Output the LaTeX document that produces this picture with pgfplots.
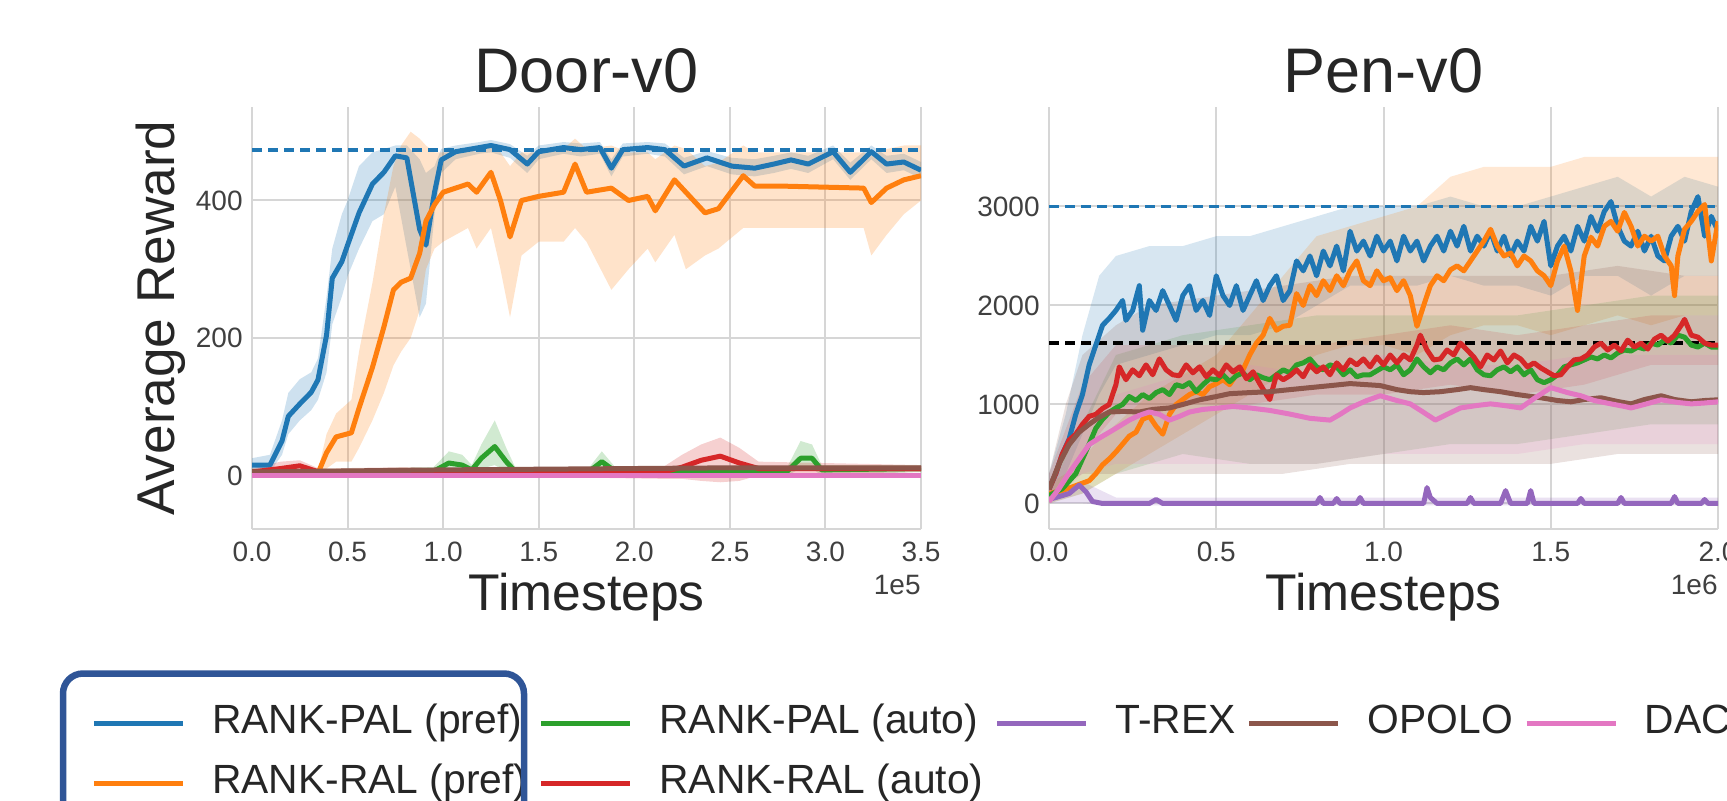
\documentclass[border=0pt]{standalone}
\usepackage{pgfplots}
\pgfplotsset{compat=1.18}
\usepackage{pgfplotstable}
\usepgfplotslibrary{fillbetween}
\usepackage{fontspec}
\setmainfont{Liberation Sans}

\definecolor{cblue}{HTML}{1F77B4}
\definecolor{corange}{HTML}{FF7F0E}
\definecolor{cgreen}{HTML}{2CA02C}
\definecolor{cred}{HTML}{D62728}
\definecolor{cpurple}{HTML}{9467BD}
\definecolor{cbrown}{HTML}{8C564B}
\definecolor{cpink}{HTML}{E377C2}
\definecolor{boxblue}{HTML}{2F5597}
\definecolor{gridgray}{HTML}{D6D6D6}
\definecolor{txt}{HTML}{262626}

% ---------------- Door-v0 data (x in 1e5) ----------------
\pgfplotstableread{
x y lo hi
0 15 5 25
0.094 15 5 30
0.157 50 30 80
0.19 86 60 120
0.25 104 80 140
0.31 121 95 150
0.345 139 110 170
0.39 204 150 260
0.42 287 220 330
0.47 311 260 380
0.5 335 290 400
0.56 382 330 450
0.63 424 370 470
0.69 441 380 475
0.75 465 420 480
0.81 462 330 480
0.877 358 230 460
0.91 335 250 440
0.955 412 380 450
0.99 459 440 475
1.065 471 460 480
1.19 477 468 485
1.25 480 470 488
1.35 474 462 482
1.44 453 440 465
1.50 471 460 480
1.63 477 468 485
1.72 474 464 483
1.82 477 468 485
1.88 447 435 460
1.94 474 464 483
2.07 477 468 485
2.16 474 464 483
2.26 450 438 462
2.38 462 450 472
2.51 450 438 462
2.63 447 435 460
2.73 453 440 465
2.82 459 446 470
2.91 453 440 465
3.04 471 460 480
3.13 441 430 455
3.24 471 460 480
3.32 453 440 465
3.41 456 444 468
3.5 444 432 456
}\doorblue

\pgfplotstableread{
x y lo hi
0 3 0 6
0.345 3 0 6
0.39 33 10 60
0.44 56 20 90
0.52 62 20 110
0.56 98 40 180
0.63 157 80 280
0.69 216 120 380
0.74 270 160 450
0.78 281 180 480
0.83 287 200 500
0.877 323 240 490
0.91 370 300 480
0.955 394 330 470
1.0 412 340 470
1.065 418 350 470
1.13 424 360 475
1.175 412 330 470
1.25 441 360 480
1.3 400 300 470
1.35 347 230 450
1.41 400 320 470
1.50 406 340 470
1.63 412 340 475
1.69 453 360 490
1.75 412 340 475
1.88 418 270 480
1.97 400 300 470
2.07 406 330 470
2.11 385 310 460
2.21 430 350 480
2.27 412 300 475
2.37 382 320 450
2.44 388 330 455
2.57 436 360 480
2.63 421 360 470
2.76 421 360 470
3.20 418 360 470
3.24 397 320 465
3.32 418 350 475
3.41 430 380 480
3.5 436 400 480
}\doororange

\pgfplotstableread{
x y lo hi
0 5 0 10
0.5 5 0 10
0.95 6 0 12
1.03 18 5 35
1.1 15 5 30
1.15 8 0 15
1.2 25 10 45
1.27 42 15 80
1.33 20 5 40
1.38 5 0 10
1.76 5 0 10
1.83 20 8 35
1.9 6 0 12
2.8 6 0 12
2.87 25 10 50
2.93 25 10 45
2.98 8 0 15
3.5 10 5 15
}\doorgreen

\pgfplotstableread{
x y lo hi
0 5 0 10
0.15 10 2 20
0.25 14 4 22
0.35 5 0 10
0.8 6 0 12
1.0 5 0 10
2.15 5 -5 12
2.25 12 -5 30
2.35 22 -8 45
2.45 28 -10 55
2.55 18 -8 40
2.65 10 0 20
3.5 10 5 15
}\doorred

\pgfplotstableread{
x y
0 0
3.5 0
}\doorpurple

\pgfplotstableread{
x y
0 5
1.0 8
2.0 10
2.5 11
3.5 11
}\doorbrown

\pgfplotstableread{
x y
0 0
3.5 0
}\doorpink

% ---------------- Pen-v0 data (x in 1e6) ----------------
\pgfplotstableread{
x y
0 144
0.02 300
0.04 500
0.06 650
0.08 900
0.10 1100
0.12 1400
0.14 1600
0.16 1800
0.18 1870
0.20 1950
0.22 2050
0.23 1850
0.25 1950
0.27 2200
0.28 1750
0.30 2050
0.32 1950
0.34 2150
0.36 2000
0.38 1850
0.40 2100
0.42 2200
0.44 1950
0.46 2050
0.48 1900
0.50 2300
0.52 2100
0.54 2000
0.56 2200
0.58 1950
0.60 2100
0.62 2250
0.64 2050
0.66 2200
0.68 2300
0.70 2050
0.72 2150
0.74 2450
0.76 2350
0.78 2500
0.80 2300
0.82 2550
0.84 2400
0.86 2600
0.88 2350
0.90 2750
0.92 2550
0.94 2650
0.96 2500
0.98 2700
1.00 2550
1.02 2650
1.04 2450
1.06 2700
1.08 2550
1.10 2650
1.12 2450
1.14 2600
1.16 2700
1.18 2550
1.20 2750
1.22 2600
1.24 2800
1.26 2550
1.28 2700
1.30 2600
1.32 2750
1.34 2550
1.36 2700
1.38 2500
1.40 2650
1.42 2550
1.44 2800
1.46 2650
1.48 2850
1.50 2400
1.52 2600
1.54 2700
1.56 2550
1.58 2800
1.60 2650
1.62 2900
1.64 2750
1.66 2950
1.68 3050
1.70 2800
1.72 2650
1.74 2600
1.76 2750
1.78 2550
1.80 2700
1.82 2500
1.84 2450
1.86 2700
1.88 2800
1.90 2650
1.92 2950
1.94 3100
1.96 2700
1.98 2900
2.00 2750
}\penblue

\pgfplotstableread{
x y
0 100
0.04 130
0.08 180
0.12 230
0.14 300
0.16 390
0.18 450
0.20 520
0.22 600
0.24 680
0.26 720
0.28 850
0.30 880
0.32 780
0.34 700
0.36 900
0.38 1000
0.40 1050
0.42 1100
0.44 1130
0.46 1100
0.48 1180
0.50 1210
0.52 1250
0.54 1200
0.56 1300
0.58 1350
0.60 1500
0.62 1620
0.64 1700
0.66 1870
0.68 1750
0.70 1790
0.72 1800
0.74 2120
0.76 2000
0.78 2200
0.80 2100
0.82 2250
0.84 2150
0.86 2300
0.88 2200
0.90 2350
0.92 2450
0.94 2250
0.96 2200
0.98 2350
1.00 2250
1.02 2280
1.04 2150
1.06 2250
1.08 2100
1.10 1790
1.12 2000
1.14 2200
1.16 2300
1.18 2250
1.20 2360
1.22 2400
1.24 2350
1.26 2450
1.28 2550
1.30 2650
1.32 2770
1.34 2600
1.36 2500
1.38 2530
1.40 2400
1.42 2500
1.44 2450
1.46 2350
1.48 2300
1.50 2200
1.52 2450
1.54 2600
1.56 2350
1.58 1950
1.60 2500
1.62 2690
1.64 2600
1.66 2800
1.68 2850
1.70 2750
1.72 2940
1.74 2800
1.76 2600
1.78 2700
1.80 2650
1.82 2700
1.84 2500
1.86 2400
1.87 2100
1.88 2500
1.90 2770
1.92 2850
1.94 2950
1.96 3020
1.98 2450
2.00 2850
}\penorange

\pgfplotstableread{
x y
0 80
0.04 150
0.08 300
0.10 450
0.12 600
0.14 760
0.16 850
0.18 920
0.20 965
0.22 1000
0.24 1080
0.26 1040
0.28 1100
0.30 1060
0.32 1120
0.34 1150
0.36 1100
0.38 1200
0.40 1180
0.42 1220
0.44 1130
0.46 1200
0.48 1260
0.50 1250
0.52 1300
0.54 1230
0.56 1290
0.58 1320
0.60 1250
0.62 1300
0.64 1270
0.66 1250
0.68 1300
0.70 1350
0.72 1320
0.74 1400
0.76 1420
0.78 1460
0.80 1380
0.82 1350
0.84 1400
0.86 1380
0.88 1300
0.90 1350
0.92 1280
0.94 1300
0.96 1300
0.98 1340
1.00 1380
1.02 1350
1.04 1400
1.06 1300
1.08 1350
1.10 1460
1.12 1380
1.14 1320
1.16 1380
1.18 1350
1.20 1420
1.22 1460
1.24 1400
1.26 1460
1.28 1350
1.30 1300
1.32 1290
1.34 1350
1.36 1380
1.38 1330
1.40 1380
1.42 1300
1.44 1350
1.46 1250
1.48 1220
1.50 1250
1.52 1300
1.54 1380
1.56 1400
1.58 1420
1.60 1450
1.62 1480
1.64 1460
1.66 1500
1.68 1470
1.70 1520
1.72 1550
1.74 1540
1.76 1580
1.78 1560
1.80 1620
1.82 1600
1.84 1650
1.86 1620
1.88 1700
1.90 1680
1.92 1600
1.94 1580
1.96 1620
1.98 1580
2.00 1580
}\pengreen

\pgfplotstableread{
x y
0 144
0.02 300
0.04 500
0.06 640
0.08 700
0.10 800
0.12 880
0.14 900
0.16 960
0.18 1000
0.20 1200
0.21 1380
0.23 1250
0.25 1350
0.27 1290
0.29 1400
0.31 1300
0.33 1460
0.35 1350
0.37 1300
0.39 1290
0.41 1400
0.43 1320
0.45 1380
0.47 1280
0.49 1350
0.51 1290
0.53 1400
0.55 1330
0.57 1380
0.59 1260
0.61 1330
0.63 1210
0.65 1100
0.66 1050
0.68 1300
0.70 1250
0.72 1290
0.74 1350
0.76 1280
0.78 1400
0.80 1330
0.82 1380
0.84 1300
0.86 1420
0.88 1350
0.90 1450
0.92 1400
0.94 1460
0.96 1380
0.98 1480
1.00 1400
1.02 1500
1.04 1420
1.06 1500
1.08 1450
1.10 1600
1.11 1700
1.13 1550
1.15 1450
1.17 1460
1.19 1550
1.21 1500
1.23 1620
1.25 1550
1.27 1480
1.29 1380
1.31 1500
1.33 1450
1.35 1540
1.37 1420
1.39 1500
1.41 1460
1.43 1380
1.45 1420
1.47 1370
1.49 1330
1.51 1290
1.53 1300
1.55 1380
1.57 1450
1.59 1460
1.61 1500
1.63 1580
1.65 1620
1.67 1550
1.69 1600
1.71 1540
1.73 1650
1.75 1580
1.77 1620
1.79 1560
1.81 1660
1.83 1700
1.85 1640
1.87 1700
1.89 1800
1.90 1860
1.92 1700
1.94 1680
1.96 1620
1.98 1600
2.00 1600
}\penred

\pgfplotstableread{
x y
0 40
0.03 70
0.06 100
0.09 185
0.11 120
0.13 20
0.16 0
0.30 0
0.32 40
0.34 0
0.80 0
0.81 60
0.82 0
0.85 0
0.86 50
0.87 0
0.92 0
0.93 60
0.94 0
1.12 0
1.13 160
1.14 60
1.16 0
1.25 0
1.26 60
1.27 0
1.35 0
1.365 130
1.38 0
1.43 0
1.44 130
1.45 0
1.58 0
1.59 50
1.60 0
1.70 0
1.71 60
1.72 0
1.86 0
1.87 70
1.88 0
1.95 0
1.96 40
1.97 0
2.00 0
}\penpurple

\pgfplotstableread{
x y
0 144
0.03 400
0.06 595
0.09 720
0.12 800
0.15 870
0.18 924
0.22 930
0.27 924
0.31 950
0.36 965
0.40 1000
0.45 1047
0.50 1080
0.54 1109
0.60 1120
0.66 1129
0.72 1150
0.78 1170
0.84 1190
0.90 1211
0.95 1200
0.99 1191
1.04 1150
1.08 1129
1.12 1120
1.17 1129
1.22 1150
1.26 1170
1.30 1150
1.35 1129
1.40 1100
1.47 1068
1.52 1040
1.56 1027
1.60 1050
1.65 1068
1.70 1030
1.74 1006
1.78 1050
1.83 1088
1.87 1050
1.92 1027
1.96 1040
2.00 1047
}\penbrown

\pgfplotstableread{
x y
0 20
0.03 150
0.06 308
0.09 450
0.12 595
0.15 660
0.18 719
0.21 780
0.24 842
0.27 890
0.30 924
0.33 900
0.36 842
0.39 880
0.42 924
0.46 950
0.51 965
0.55 980
0.60 965
0.66 940
0.72 903
0.78 860
0.84 842
0.87 900
0.90 965
0.95 1040
0.99 1088
1.04 1040
1.08 1006
1.12 920
1.155 842
1.19 900
1.23 965
1.28 990
1.32 1006
1.36 990
1.41 965
1.45 1060
1.50 1170
1.55 1120
1.59 1088
1.63 1040
1.68 1006
1.72 980
1.74 965
1.78 1000
1.83 1047
1.88 1020
1.92 1006
1.96 1015
2.00 1027
}\penpink

% Pen bands
\pgfplotstableread{
x lo hi
0 50 300
0.05 300 900
0.10 700 1700
0.15 1100 2300
0.20 1400 2500
0.30 1500 2600
0.40 1600 2600
0.50 1700 2700
0.60 1700 2700
0.70 1800 2800
0.80 2000 2900
0.90 2200 3000
1.00 2200 3000
1.10 2200 3000
1.20 2300 3100
1.30 2200 3000
1.40 2200 3000
1.50 2100 3100
1.60 2300 3200
1.70 2300 3300
1.80 2100 3100
1.90 2300 3300
2.00 2300 3200
}\bandpenblue

\pgfplotstableread{
x lo hi
0 0 200
0.05 50 300
0.10 100 450
0.15 200 650
0.20 300 800
0.30 500 1100
0.40 700 1300
0.50 900 1500
0.60 1100 1900
0.70 1300 2300
0.80 1500 2700
0.90 1600 2800
1.00 1600 2900
1.10 1500 3000
1.20 1700 3300
1.30 1800 3400
1.40 1800 3400
1.50 1700 3400
1.60 1800 3500
1.70 1900 3500
1.80 1800 3500
1.90 1900 3500
2.00 1900 3500
}\bandpenorange

\pgfplotstableread{
x lo hi
0 0 200
0.1 100 800
0.2 300 1500
0.4 500 1700
0.6 400 1800
0.8 400 1900
1.0 500 1900
1.2 600 1900
1.4 600 1900
1.6 700 2000
1.8 800 2100
2.0 800 2100
}\bandpengreen

\pgfplotstableread{
x lo hi
0 50 300
0.1 500 1200
0.2 900 1600
0.4 1000 1600
0.6 1000 1600
0.8 1100 1600
1.0 1100 1700
1.2 1200 1800
1.4 1100 1700
1.6 1200 1800
1.8 1400 1900
2.0 1400 1900
}\bandpenred

\pgfplotstableread{
x lo hi
0 0 100
0.1 0 220
0.2 -20 60
2.0 -20 60
}\bandpenpurple

\pgfplotstableread{
x lo hi
0 50 300
0.05 200 1000
0.10 300 1500
0.20 300 1800
0.30 300 2000
0.50 300 2100
0.70 300 2200
0.90 400 2300
1.10 400 2300
1.30 400 2300
1.50 400 2300
1.70 500 2400
1.90 500 2300
2.00 500 2300
}\bandpenbrown

\pgfplotstableread{
x lo hi
0 0 100
0.1 300 800
0.2 400 1100
0.4 400 1300
0.6 400 1400
0.8 400 1300
1.0 500 1500
1.2 500 1400
1.4 500 1400
1.6 600 1500
1.8 600 1500
2.0 600 1500
}\bandpenpink

\newcommand{\band}[3]{% table, opacity, color
  \addplot[draw=none, name path=bandlo, forget plot] table[x=x,y=lo]{#1};
  \addplot[draw=none, name path=bandhi, forget plot] table[x=x,y=hi]{#1};
  \addplot[fill=#3, fill opacity=#2, draw=none, forget plot] fill between[of=bandlo and bandhi];
}

\tikzset{
  ttl/.style={anchor=base, inner sep=0pt, font=\fontsize{31.5}{36}\selectfont, text=txt},
  offs/.style={anchor=east, inner sep=0pt, font=\fontsize{14}{16}\selectfont, text=black!75},
}

\pgfplotsset{
  rlax/.style={
    scale only axis,
    width=334.5pt, height=211pt,
    axis lines=left,
    axis line style={-, draw=gridgray, line width=1pt},
    grid=major,
    grid style={draw=gridgray, line width=1pt},
    major tick length=0pt,
    scaled ticks=false,
    clip mode=individual,
    /pgf/number format/assume math mode=true,
    tick label style={font=\fontsize{14}{16}\selectfont, text=black!75},
    xticklabel style={anchor=center, inner sep=0pt, yshift=-11.5pt,
      /pgf/number format/.cd, fixed, fixed zerofill, precision=1},
    yticklabel style={anchor=east, inner sep=0pt, xshift=-4.5pt,
      /pgf/number format/.cd, fixed, 1000 sep={}},
    xlabel style={at={(axis description cs:0.5,-0.192)}, anchor=base,
      font=\fontsize{25.8}{30}\selectfont, text=txt},
    ylabel style={at={(axis description cs:-0.1166,0.5)}, anchor=base,
      font=\fontsize{26.6}{30}\selectfont, text=txt},
  },
  ln/.style={line width=2.5pt, line join=round},
}

\begin{document}
\begin{tikzpicture}

% ================= Door-v0 =================
\begin{axis}[rlax,
  at={(126pt,135.5pt)}, anchor=south west,
  xmin=0, xmax=3.5, ymin=-78, ymax=536,
  xtick={0,0.5,1,1.5,2,2.5,3,3.5},
  ytick={0,200,400},
  xlabel={Timesteps}, ylabel={Average Reward},
  legend columns=5,
  legend cell align=left,
  legend image code/.code={\draw[#1, line width=2.5pt] (0pt,0pt) -- (44.5pt,0pt);},
  legend style={
    at={(-0.2400,-0.4170)}, anchor=north west,
    draw=none, fill=none, inner sep=0pt, outer sep=0pt,
    font=\fontsize{20.4}{23}\selectfont, text=txt,
    nodes={inner sep=0pt, text height=14.5pt, text depth=4.5pt},
    row sep=11pt,
    /tikz/every odd column/.append style={column sep=13.4pt},
    /tikz/every even column/.append style={column sep=5.6pt},
  },
]
\band{\doorblue}{0.22}{cblue}
\band{\doororange}{0.22}{corange}
\band{\doorgreen}{0.22}{cgreen}
\band{\doorred}{0.22}{cred}

\addplot[cblue, line width=2pt, dash pattern=on 5pt off 3pt, forget plot] coordinates {(0,473) (3.5,473)};

\addplot[ln, cblue, forget plot] table[x=x,y=y]{\doorblue};
\addplot[ln, corange, forget plot] table[x=x,y=y]{\doororange};
\addplot[ln, cgreen, forget plot] table[x=x,y=y]{\doorgreen};
\addplot[ln, cred, forget plot] table[x=x,y=y]{\doorred};
\addplot[ln, cpurple, forget plot] table[x=x,y=y]{\doorpurple};
\addplot[ln, cbrown, forget plot] table[x=x,y=y]{\doorbrown};
\addplot[ln, cpink, forget plot] table[x=x,y=y]{\doorpink};

\addlegendimage{cblue}\addlegendentry{RANK-PAL (pref)}
\addlegendimage{cgreen}\addlegendentry{RANK-PAL (auto)}
\addlegendimage{cpurple}\addlegendentry{T-REX}
\addlegendimage{cbrown}\addlegendentry{OPOLO}
\addlegendimage{cpink}\addlegendentry{DAC}
\addlegendimage{corange}\addlegendentry{RANK-RAL (pref)}
\addlegendimage{cred}\addlegendentry{RANK-RAL (auto)}

\node[ttl] at (axis description cs:0.5,1.0332) {Door-v0};
\node[offs] at (axis description cs:1,-0.1327) {1e5};
\end{axis}

% ================= Pen-v0 =================
\begin{axis}[rlax,
  at={(524.5pt,135.5pt)}, anchor=south west,
  xmin=0, xmax=2.0, ymin=-258, ymax=4005,
  xtick={0,0.5,1,1.5,2},
  ytick={0,1000,2000,3000},
  xlabel={Timesteps},
]
\band{\bandpenblue}{0.18}{cblue}
\band{\bandpenorange}{0.18}{corange}
\band{\bandpengreen}{0.15}{cgreen}
\band{\bandpenred}{0.15}{cred}
\band{\bandpenpurple}{0.2}{cpurple}
\band{\bandpenbrown}{0.18}{cbrown}
\band{\bandpenpink}{0.15}{cpink}

\addplot[cblue, line width=1.8pt, dash pattern=on 5pt off 3pt] coordinates {(0,3000) (2.0,3000)};
\addplot[black, line width=2.4pt, dash pattern=on 5pt off 3pt] coordinates {(0,1620) (2.0,1620)};

\addplot[ln, cblue] table[x=x,y=y]{\penblue};
\addplot[ln, corange] table[x=x,y=y]{\penorange};
\addplot[ln, cgreen] table[x=x,y=y]{\pengreen};
\addplot[ln, cred] table[x=x,y=y]{\penred};
\addplot[ln, cpurple] table[x=x,y=y]{\penpurple};
\addplot[ln, cbrown] table[x=x,y=y]{\penbrown};
\addplot[ln, cpink] table[x=x,y=y]{\penpink};

\node[ttl] at (axis description cs:0.5,1.0332) {Pen-v0};
\node[offs] at (axis description cs:1,-0.1327) {1e6};
\end{axis}

% annotation box around first legend column
\draw[boxblue, line width=3.25pt, rounded corners=10pt] (31.5pt,-30pt) rectangle (262pt,63.25pt);

\pgfresetboundingbox
\path[use as bounding box] (0,0) rectangle (863.5pt,400pt);
\end{tikzpicture}
\end{document}
